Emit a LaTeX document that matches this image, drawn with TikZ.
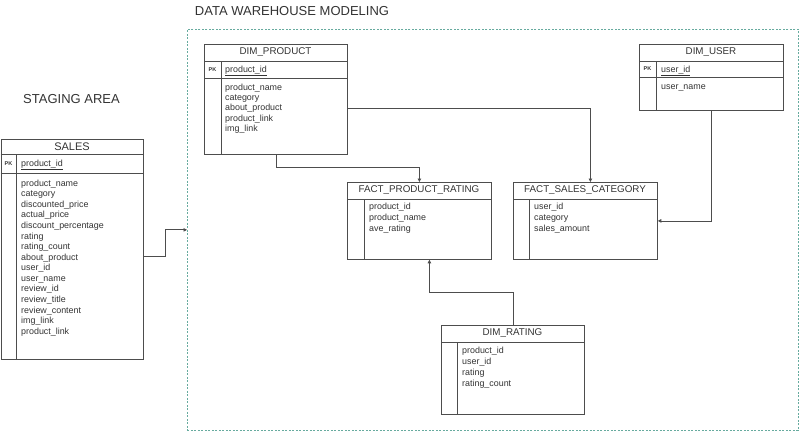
\documentclass[tikz,border=0pt]{standalone}
\usepackage{fontspec}
\setmainfont{Liberation Sans}
\usetikzlibrary{arrows.meta}
\definecolor{txt}{HTML}{333333}
\definecolor{ln}{HTML}{4D4D4D}
\definecolor{teal}{HTML}{67AB9F}
\tikzset{
  tbl/.style={draw=ln, line width=0.8pt, rectangle, inner sep=0pt, anchor=north west},
  inner/.style={draw=ln, line width=0.8pt},
  hdr/.style={text=txt, font=\fontsize{9.8}{11}\selectfont, inner sep=0pt},
  row/.style={text=txt, font=\fontsize{8.9}{10}\selectfont, inner sep=0pt, anchor=base west, yshift=-3.2pt},
  pk/.style={text=txt, font=\bfseries\fontsize{5.5}{6}\selectfont, inner sep=0pt},
  ttl/.style={text=txt, font=\fontsize{13}{15}\selectfont, inner sep=0pt},
  conn/.style={draw=ln, line width=0.8pt, -{Triangle[length=3.5pt,width=3.5pt]}},
}
\begin{document}
\begin{tikzpicture}[x=1pt,y=-1pt]
\useasboundingbox (0,0) rectangle (800,431);

% titles
\node[ttl] (t1) at (292,11) {DATA WAREHOUSE MODELING};
\node[ttl] (t2) at (71.5,99.5) {STAGING AREA};

% dashed area
\node[draw=teal, line width=0.7pt, dash pattern=on 2pt off 1.5pt, rectangle, inner sep=0pt,
      minimum width=611pt, minimum height=401pt, anchor=north west] (dwh) at (187,29) {};

% SALES
\node[tbl, minimum width=142.5pt, minimum height=220.5pt] (sales) at (0.5,138.5) {};
\draw[inner] (0.5,154) -- (143,154);
\draw[inner] (0.5,173) -- (143,173);
\draw[inner] (16.5,154) -- (16.5,359);
\node[hdr, font=\fontsize{11}{12}\selectfont] (salesh) at (72,146.5) {SALES};
\node[pk] (salespk) at (8.5,163.5) {PK};
\node[row] (salesid) at (21,163) {\underline{product\_id}};
\foreach \t [count=\i from 0] in {product\_name,category,discounted\_price,actual\_price,discount\_percentage,rating,rating\_count,about\_product,user\_id,user\_name,review\_id,review\_title,review\_content,img\_link,product\_link}
  \node[row] (sr\i) at (21,183+10.57*\i) {\t};

% DIM_PRODUCT
\node[tbl, minimum width=143pt, minimum height=110pt] (dprod) at (204,44) {};
\draw[inner] (204,61) -- (347,61);
\draw[inner] (204,78) -- (347,78);
\draw[inner] (221,61) -- (221,154);
\node[hdr] (dprodh) at (275.5,52.5) {DIM\_PRODUCT};
\node[pk] (dprodpk) at (212.5,69.5) {PK};
\node[row] (dprodid) at (225,69) {\underline{product\_id}};
\foreach \t [count=\i from 0] in {product\_name,category,about\_product,product\_link,img\_link}
  \node[row] (pr\i) at (225,87+10.3*\i) {\t};

% DIM_USER
\node[tbl, minimum width=144pt, minimum height=66pt] (duser) at (639,44) {};
\draw[inner] (639,61) -- (783,61);
\draw[inner] (639,77) -- (783,77);
\draw[inner] (656,61) -- (656,110);
\node[hdr] (duserh) at (711,52.5) {DIM\_USER};
\node[pk] (duserpk) at (647.5,69) {PK};
\node[row] (duserid) at (661,69) {\underline{user\_id}};
\node[row] (dusern) at (661,86) {user\_name};

% FACT_PRODUCT_RATING
\node[tbl, minimum width=144pt, minimum height=77pt] (fpr) at (347,182) {};
\draw[inner] (347,199) -- (491,199);
\draw[inner] (364,199) -- (364,259);
\node[hdr] (fprh) at (419,190.5) {FACT\_PRODUCT\_RATING};
\foreach \t [count=\i from 0] in {product\_id,product\_name,ave\_rating}
  \node[row] (fr\i) at (369,206+11*\i) {\t};

% FACT_SALES_CATEGORY
\node[tbl, minimum width=144pt, minimum height=77pt] (fsc) at (513,182) {};
\draw[inner] (513,199) -- (657,199);
\draw[inner] (529,199) -- (529,259);
\node[hdr] (fsch) at (585,190.5) {FACT\_SALES\_CATEGORY};
\foreach \t [count=\i from 0] in {user\_id,category,sales\_amount}
  \node[row] (fc\i) at (534,206+11*\i) {\t};

% DIM_RATING
\node[tbl, minimum width=143pt, minimum height=89pt] (drat) at (441,325) {};
\draw[inner] (441,342) -- (584,342);
\draw[inner] (457,342) -- (457,414);
\node[hdr] (drath) at (512.5,333.5) {DIM\_RATING};
\foreach \t [count=\i from 0] in {product\_id,user\_id,rating,rating\_count}
  \node[row] (dr\i) at (462,350+11*\i) {\t};

% connectors
\draw[conn] ([yshift=-7.25pt]sales.east) -- ++(22,0) |- (dwh.west);
\draw[conn] ([yshift=-9pt]dprod.east) -| ([xshift=5pt]fsc.north);
\draw[conn] (dprod.south) -- ++(0,13) -| (fpr.north);
\draw[conn] (duser.south) |- (fsc.east);
\draw[conn] (drat.north) -- ++(0,-33) -| ([xshift=10pt]fpr.south);
\end{tikzpicture}
\end{document}
